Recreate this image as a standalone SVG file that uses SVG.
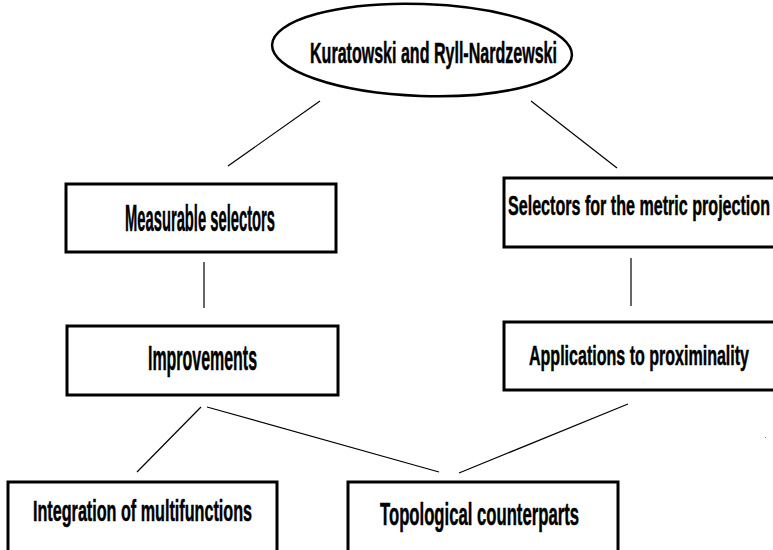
<svg xmlns="http://www.w3.org/2000/svg" width="773" height="550" viewBox="0 0 773 550">
<style>
.box{fill:#fff;stroke:#000;stroke-width:3}
.ell{fill:#fff;stroke:#000;stroke-width:2.5}
.t{font-family:"Liberation Sans",Arial,sans-serif;font-weight:bold;fill:#000;stroke:#000;stroke-width:0.5}
.c line{stroke:#000;stroke-width:1.2}
</style>
<rect width="773" height="550" fill="#fff"/>
<g class="c" id="connectors">
<line x1="320" y1="101" x2="228" y2="166"/>
<line x1="531" y1="101" x2="617" y2="168"/>
<line x1="204" y1="262" x2="204" y2="308"/>
<line x1="631" y1="258" x2="631" y2="306"/>
<line x1="201" y1="407" x2="137" y2="472"/>
<line x1="207" y1="407" x2="439" y2="472"/>
<line x1="628" y1="404" x2="459" y2="473"/>
</g>
<g id="n-kuratowski">
<ellipse class="ell" cx="422" cy="50" rx="150" ry="46" transform="rotate(2 422 50)"/>
<text class="t" x="310" y="63" font-size="29" textLength="247" lengthAdjust="spacingAndGlyphs">Kuratowski and Ryll-Nardzewski</text>
</g>
<g id="n-measurable">
<rect class="box" x="66" y="184" width="270" height="68"/>
<text class="t" x="125" y="231" font-size="37" textLength="150" lengthAdjust="spacingAndGlyphs">Measurable selectors</text>
</g>
<g id="n-selectors">
<rect class="box" x="504" y="178" width="290" height="69"/>
<text class="t" x="508" y="215" font-size="27" textLength="262" lengthAdjust="spacingAndGlyphs">Selectors for the metric projection</text>
</g>
<g id="n-improvements">
<rect class="box" x="67" y="326" width="271" height="69"/>
<text class="t" x="148" y="370" font-size="35" textLength="109" lengthAdjust="spacingAndGlyphs">Improvements</text>
</g>
<g id="n-applications">
<rect class="box" x="504" y="322" width="290" height="68"/>
<text class="t" x="529" y="365" font-size="28" textLength="220" lengthAdjust="spacingAndGlyphs">Applications to proximinality</text>
</g>
<g id="n-integration">
<rect class="box" x="8" y="482" width="269" height="90"/>
<text class="t" x="33" y="521" font-size="29" textLength="219" lengthAdjust="spacingAndGlyphs">Integration of multifunctions</text>
</g>
<g id="n-topological">
<rect class="box" x="348" y="482" width="270" height="90"/>
<text class="t" x="380" y="525" font-size="31" textLength="199" lengthAdjust="spacingAndGlyphs">Topological counterparts</text>
</g>
<rect x="765" y="437" width="1" height="1" fill="#888"/>
</svg>
